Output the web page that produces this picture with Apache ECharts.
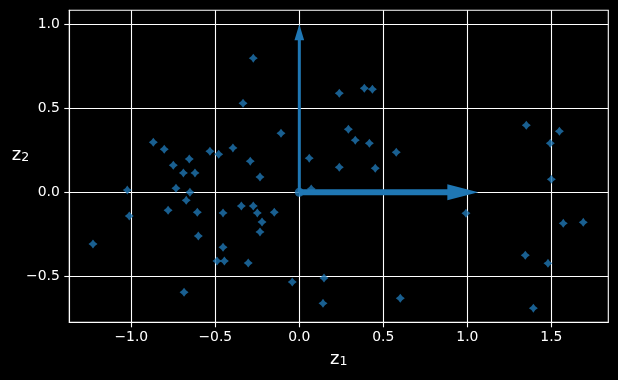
<!DOCTYPE html>
<html>
<head>
<meta charset="utf-8">
<script src="https://cdn.jsdelivr.net/npm/echarts@6/dist/echarts.min.js"></script>
<style>
html,body{margin:0;padding:0;background:#000;}
#chart{width:618px;height:380px;}
</style>
</head>
<body>
<div id="chart"></div>
<script>
// ---- data ----
const points = [
  [-0.274, 0.798], [-0.335, 0.530], [-0.109, 0.351], [-0.869, 0.298],
  [-0.804, 0.256], [-0.750, 0.161], [-0.655, 0.198], [-0.690, 0.115],
  [-0.621, 0.115], [-0.532, 0.244], [-0.480, 0.226], [-0.395, 0.264],
  [-0.292, 0.185], [-0.234, 0.091], [0.059, 0.203], [-1.024, 0.013],
  [-0.734, 0.024], [-0.651, 0.000], [-0.673, -0.048], [-1.012, -0.141],
  [-0.781, -0.107], [-0.607, -0.119], [-0.454, -0.123], [-0.345, -0.082],
  [-0.274, -0.082], [-0.250, -0.123], [-0.149, -0.119], [-0.222, -0.177],
  [-0.234, -0.236], [-0.601, -0.260], [-1.228, -0.308], [-0.454, -0.327],
  [-0.490, -0.409], [-0.446, -0.409], [-0.304, -0.421], [-0.042, -0.534],
  [-0.686, -0.595], [0.238, 0.589], [0.387, 0.619], [0.435, 0.613],
  [0.292, 0.375], [0.333, 0.310], [0.417, 0.292], [0.577, 0.238],
  [0.238, 0.149], [0.452, 0.143], [0.071, 0.020], [1.351, 0.399],
  [1.548, 0.363], [1.494, 0.292], [1.500, 0.077], [0.992, -0.125],
  [1.571, -0.185], [1.690, -0.179], [1.345, -0.375], [1.480, -0.423],
  [0.147, -0.510], [0.141, -0.661], [0.601, -0.631], [1.393, -0.690]
];
const origin = [[0, 0]];
// arrows: [x0, y0, x1, y1]
const arrows = [[0, 0, 0, 1], [0, 0, 1, 0]];
const xTicks = [-1.0, -0.5, 0.0, 0.5, 1.0, 1.5];
const yTicks = [-0.5, 0.0, 0.5, 1.0];
const xRange = [-1.369, 1.839];
const yRange = [-0.774, 1.083];

// ---- styles ----
const BLUE = '#1f77b4';
const FONT = 'DejaVu Sans';
const arrowStyles = [
  { shaft: 3, headLen: 16, headWidth: 9.7, overhang: 0 },
  { shaft: 6, headLen: 31, headWidth: 16, overhang: 11 }
];
const fmt = v => Number(v).toFixed(1).replace('-', '\u2212');

const chart = echarts.init(document.getElementById('chart'), null, { renderer: 'canvas' });

const nameRich = {
  z: { fontFamily: FONT, fontSize: 18, color: '#fff', lineHeight: 24, verticalAlign: 'bottom' },
  s: { fontFamily: FONT, fontSize: 12.6, color: '#fff', lineHeight: 12, verticalAlign: 'bottom' }
};

const axisCommon = {
  type: 'value',
  axisLine: { show: true, onZero: false, lineStyle: { color: '#fff', width: 1.1 } },
  axisTick: { show: true, inside: false, length: 5, lineStyle: { color: '#fff', width: 1.1 } },
  splitLine: { show: true, lineStyle: { color: '#fff', width: 1.1 } },
  axisLabel: { color: '#fff', fontFamily: FONT, fontSize: 13.9, formatter: fmt, showMinLabel: true, showMaxLabel: true }
};

chart.setOption({
  backgroundColor: '#000',
  animation: false,
  grid: { left: 69.3, right: 9.7, top: 10.3, bottom: 57.7, show: true, borderColor: '#fff', borderWidth: 1.1, containLabel: false },
  xAxis: Object.assign({}, axisCommon, {
    min: xRange[0], max: xRange[1],
    axisTick: Object.assign({}, axisCommon.axisTick, { customValues: xTicks }),
    axisLabel: Object.assign({}, axisCommon.axisLabel, { customValues: xTicks, margin: 8.5 }),
    name: '{z|z}{s|1}', nameLocation: 'middle', nameGap: 22.4,
    nameTextStyle: { rich: nameRich }
  }),
  yAxis: Object.assign({}, axisCommon, {
    min: yRange[0], max: yRange[1],
    axisTick: Object.assign({}, axisCommon.axisTick, { customValues: yTicks }),
    axisLabel: Object.assign({}, axisCommon.axisLabel, { customValues: yTicks, margin: 9.5 }),
    name: '{z|z}{s|2}', nameLocation: 'middle', nameRotate: 0, nameGap: 40,
    nameMoveOverlap: false,
    nameTextStyle: { rich: nameRich, padding: [0, 0, 28, 0] }
  }),
  series: [
    {
      type: 'scatter',
      data: points,
      symbol: 'path://M0,-10 L4.3,-4.3 L10,0 L4.3,4.3 L0,10 L-4.3,4.3 L-10,0 L-4.3,-4.3 Z',
      symbolSize: 9,
      itemStyle: { color: BLUE },
      z: 2
    },
    {
      type: 'custom',
      data: arrows,
      clip: false,
      z: 3,
      renderItem: function (params, api) {
        const i = params.dataIndex;
        const st = arrowStyles[i];
        const p0 = api.coord([api.value(0), api.value(1)]);
        const p1 = api.coord([api.value(2), api.value(3)]);
        let dx = p1[0] - p0[0], dy = p1[1] - p0[1];
        const len = Math.sqrt(dx * dx + dy * dy);
        const ux = dx / len, uy = dy / len;
        const nx = -uy, ny = ux;
        const tip = [p1[0] + ux * st.overhang, p1[1] + uy * st.overhang];
        const base = [tip[0] - ux * st.headLen, tip[1] - uy * st.headLen];
        const hs = st.shaft / 2, hw = st.headWidth / 2;
        const pts = [
          [p0[0] + nx * hs, p0[1] + ny * hs],
          [base[0] + nx * hs, base[1] + ny * hs],
          [base[0] + nx * hw, base[1] + ny * hw],
          tip,
          [base[0] - nx * hw, base[1] - ny * hw],
          [base[0] - nx * hs, base[1] - ny * hs],
          [p0[0] - nx * hs, p0[1] - ny * hs]
        ];
        return { type: 'polygon', shape: { points: pts }, style: { fill: BLUE } };
      }
    },
    {
      type: 'scatter',
      data: origin,
      symbol: 'circle',
      symbolSize: 9,
      itemStyle: { color: BLUE },
      z: 4
    }
  ]
});
</script>
</body>
</html>
